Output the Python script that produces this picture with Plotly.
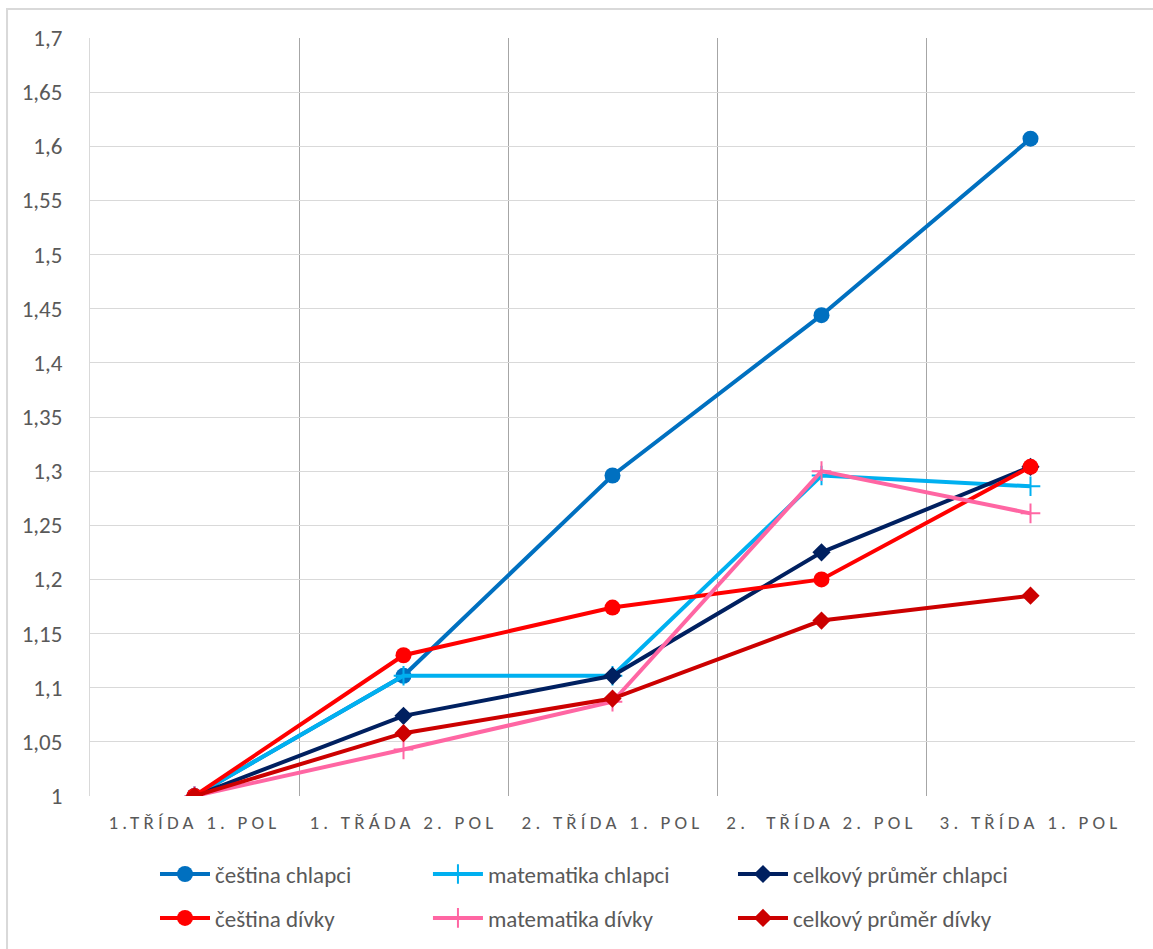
import plotly.graph_objects as go

# Pololetí (x-axis categories)
categories = ["1.TŘÍDA 1. POL", "1. TŘÁDA 2. POL", "2. TŘÍDA 1. POL",
              "2.\u00a0\u00a0TŘÍDA 2. POL", "3. TŘÍDA 1. POL"]

# Průměrné známky
cestina_chlapci = [1.0, 1.111, 1.296, 1.444, 1.607]
matematika_chlapci = [1.0, 1.111, 1.111, 1.296, 1.286]
celkovy_chlapci = [1.0, 1.074, 1.111, 1.225, 1.304]
cestina_divky = [1.0, 1.130, 1.174, 1.200, 1.304]
matematika_divky = [1.0, 1.043, 1.087, 1.300, 1.261]
celkovy_divky = [1.0, 1.058, 1.090, 1.162, 1.185]

y_ticks = [1.0, 1.05, 1.1, 1.15, 1.2, 1.25, 1.3, 1.35, 1.4, 1.45, 1.5, 1.55, 1.6, 1.65, 1.7]
y_labels = ["1", "1,05", "1,1", "1,15", "1,2", "1,25", "1,3", "1,35", "1,4",
            "1,45", "1,5", "1,55", "1,6", "1,65", "1,7"]

FONT = "Carlito, Calibri, Lato, sans-serif"
TEXT = "#595959"

series = [
    ("čeština chlapci", cestina_chlapci, "#0070C0", dict(symbol="circle", size=16), "legend"),
    ("matematika chlapci", matematika_chlapci, "#00B0F0",
     dict(symbol="cross-thin", size=14, line=dict(width=2, color="#00B0F0")), "legend2"),
    ("celkový průměr chlapci", celkovy_chlapci, "#002060", dict(symbol="diamond", size=14), "legend3"),
    ("čeština dívky", cestina_divky, "#FF0000", dict(symbol="circle", size=16), "legend"),
    ("matematika dívky", matematika_divky, "#FF66A3",
     dict(symbol="cross-thin", size=14, line=dict(width=2, color="#FF66A3")), "legend2"),
    ("celkový průměr dívky", celkovy_divky, "#CC0000", dict(symbol="diamond", size=14), "legend3"),
]

fig = go.Figure()
for name, vals, color, marker, leg in series:
    fig.add_trace(go.Scatter(
        x=categories, y=vals, name=name, mode="lines+markers",
        line=dict(color=color, width=4),
        marker=dict(color=color, **marker),
        legend=leg, legendgroup=name,
    ))

legend_common = dict(
    orientation="v", yanchor="top", xanchor="left",
    font=dict(family=FONT, size=23, color=TEXT),
    bgcolor="rgba(0,0,0,0)", tracegroupgap=11, itemwidth=50,
)

legend_y = -0.0746

fig.update_layout(
    width=1153, height=949,
    margin=dict(l=90, r=18, t=38, b=153, autoexpand=False),
    paper_bgcolor="white", plot_bgcolor="white",
    font=dict(family=FONT, color=TEXT),
    legend=dict(x=0.0622, y=legend_y, **legend_common),
    legend2=dict(x=0.3234, y=legend_y, **legend_common),
    legend3=dict(x=0.6153, y=legend_y, **legend_common),
    xaxis=dict(
        type="category", tickson="boundaries",
        showgrid=True, gridcolor="#a6a6a6", gridwidth=1,
        ticks="", showline=False, range=[-0.5, 4.5],
        tickmode="array", tickvals=categories,
        ticktext=[f'<span style="letter-spacing:4.2px">{c}</span>' for c in categories],
        tickfont=dict(family=FONT, size=19, color=TEXT),
        ticklabelstandoff=13, automargin=False,
    ),
    yaxis=dict(
        range=[1.0, 1.7], tickvals=y_ticks, ticktext=y_labels,
        showgrid=True, gridcolor="#d9d9d9", gridwidth=1,
        showline=True, linecolor="#d9d9d9", linewidth=1,
        zeroline=False, ticks="",
        tickfont=dict(family=FONT, size=23, color=TEXT),
        ticklabelstandoff=22, automargin=False,
    ),
    shapes=[dict(
        type="rect", xref="paper", yref="paper",
        x0=-0.0794, x1=1.2, y0=-0.5, y1=1.0383,
        line=dict(color="#d9d9d9", width=2), fillcolor="rgba(0,0,0,0)", layer="below",
    )],
)

fig.write_html("out.html")
